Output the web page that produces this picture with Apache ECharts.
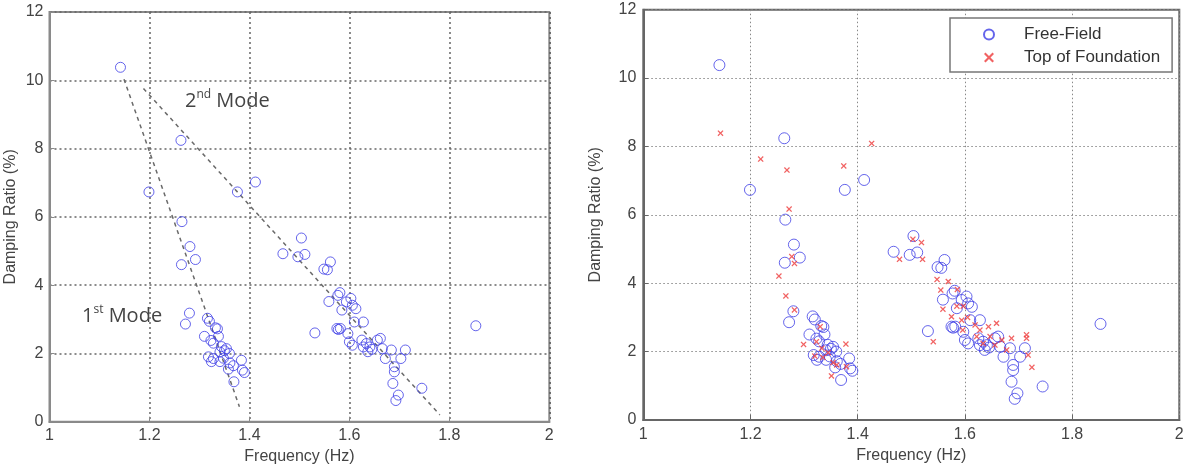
<!DOCTYPE html>
<html>
<head>
<meta charset="utf-8">
<script src="https://cdn.jsdelivr.net/npm/echarts@6/dist/echarts.min.js"></script>
<style>
html,body{margin:0;padding:0;background:#fff;}
#chart{width:1192px;height:472px;}
</style>
</head>
<body>
<div id="chart"></div>
<script>
// ---- data ----
var xTicks = [1, 1.2, 1.4, 1.6, 1.8, 2];
var yTicks = [0, 2, 4, 6, 8, 10, 12];

// Free-Field (circles) — frequency (Hz), damping ratio (%)
var ffFreq = [1.142,1.263,1.199,1.376,1.412,1.265,1.281,1.264,1.292,1.280,1.272,
  1.316,1.320,1.332,1.336,1.310,1.323,1.338,1.328,1.344,1.354,1.341,1.360,1.350,1.318,1.328,1.348,1.324,1.341,1.361,1.384,1.368,1.358,1.386,1.390,1.369,
  1.504,1.467,1.497,1.511,1.562,1.549,1.556,1.581,1.559,1.603,1.594,1.606,1.585,1.613,1.577,1.610,1.628,1.575,1.582,1.578,1.531,1.597,1.600,1.606,1.625,1.634,1.628,1.641,1.637,1.645,1.656,1.662,1.666,1.684,1.712,1.672,1.703,1.690,1.690,1.687,1.745,1.698,1.693,1.853];
var ffDamp = [10.38,8.24,6.73,6.73,7.02,5.86,5.13,4.60,4.75,3.18,2.86,
  3.03,2.94,2.75,2.72,2.50,2.38,2.50,2.30,2.20,2.14,2.04,2.00,2.08,1.90,1.85,1.86,1.76,1.76,1.72,1.80,1.64,1.54,1.51,1.44,1.17,
  5.38,4.92,4.83,4.90,4.68,4.47,4.45,3.78,3.52,3.61,3.51,3.41,3.27,3.31,3.70,2.92,2.92,2.73,2.73,2.70,2.60,2.58,2.34,2.24,2.39,2.29,2.19,2.19,2.05,2.12,2.39,2.44,2.14,2.10,2.10,1.85,1.85,1.61,1.46,1.12,0.98,0.78,0.62,2.81];

// Top of Foundation (crosses)
var tfFreq = [1.144,1.219,1.268,1.272,1.374,1.426,1.277,1.282,1.253,1.266,1.282,1.299,1.378,1.323,1.333,1.320,1.335,1.345,1.354,1.361,1.379,1.351,1.330,
  1.519,1.503,1.478,1.521,1.548,1.569,1.555,1.559,1.586,1.575,1.585,1.597,1.605,1.594,1.596,1.619,1.628,1.644,1.659,1.622,1.634,1.647,1.656,1.687,1.715,1.715,1.718,1.725,1.541,1.678,1.669];
var tfDamp = [8.39,7.63,7.31,6.17,7.43,8.09,4.78,4.58,4.21,3.63,3.22,2.21,2.22,2.29,2.10,1.87,1.83,1.97,1.68,1.61,1.56,1.29,2.73,
  5.19,5.29,4.70,4.70,4.11,4.05,3.80,3.24,3.82,3.02,3.33,3.33,3.00,2.92,2.63,2.78,2.63,2.73,2.83,2.44,2.24,2.44,2.19,2.39,2.49,2.39,1.90,1.54,2.29,2.05,2.34];

// dashed trend lines on the left panel (endpoints)
var mode1Line = [[1.149, 10.03], [1.380, 0.44]];
var mode2Line = [[1.188, 9.76], [1.781, 0.20]];

function pairs(xs, ys){ return xs.map(function(x,i){ return [x, ys[i]]; }); }

var blue = '#3f3fe6';
var red = '#ee3b3b';
var xPath = 'path://M0,1.5L1.5,0L5,3.5L8.5,0L10,1.5L6.5,5L10,8.5L8.5,10L5,6.5L1.5,10L0,8.5L3.5,5Z';
var font = 'Liberation Sans, Arial, sans-serif';

function xAxis(idx, color, gridColor, gridW, gridType, gap, margin){
  return {
    gridIndex: idx, type: 'value', min: xTicks[0], max: xTicks[xTicks.length-1],
    interval: xTicks[1]-xTicks[0],
    name: 'Frequency (Hz)', nameLocation: 'middle', nameGap: gap,
    nameTextStyle: {fontFamily: font, fontSize: 16, color: '#444'},
    axisLine: {show: true, lineStyle: {color: color, width: 2}},
    axisTick: {show: true, inside: true, length: 5, lineStyle: {color: color}},
    axisLabel: {fontFamily: font, fontSize: 16, color: '#444', margin: margin,
      formatter: function(v){ return String(+v.toFixed(1)); }},
    splitLine: {show: true, lineStyle: {color: gridColor, type: gridType, width: gridW}}
  };
}
function yAxis(idx, color, gridColor, gridW, gridType, gap, margin){
  return {
    gridIndex: idx, type: 'value', min: yTicks[0], max: yTicks[yTicks.length-1],
    interval: yTicks[1]-yTicks[0],
    name: 'Damping Ratio (%)', nameLocation: 'middle', nameGap: gap,
    nameTextStyle: {fontFamily: font, fontSize: 16, color: '#444'},
    axisLine: {show: true, lineStyle: {color: color, width: 2}},
    axisTick: {show: true, inside: true, length: 5, lineStyle: {color: color}},
    axisLabel: {fontFamily: font, fontSize: 16, color: '#444', margin: margin},
    splitLine: {show: true, lineStyle: {color: gridColor, type: gridType, width: gridW}}
  };
}

var circleStyle = {color: 'rgba(0,0,0,0)', borderColor: blue, borderWidth: 1};

var chart = echarts.init(document.getElementById('chart'), null, {renderer: 'canvas'});
chart.setOption({
  animation: false,
  backgroundColor: '#fff',
  grid: [
    {left: 49.5, right: 642.7, top: 12, bottom: 50.3, show: true, borderColor: '#8a8a8a', borderWidth: 2},
    {left: 643.3, right: 12.7, top: 9.7, bottom: 52, show: true, borderColor: '#666', borderWidth: 2}
  ],
  xAxis: [xAxis(0, '#8a8a8a', '#666', 1.5, [2, 3], 27, 6), xAxis(1, '#666', '#888', 1, [1.5, 2.5], 28, 7)],
  yAxis: [yAxis(0, '#8a8a8a', '#666', 1.5, [2, 3], 31, 6), yAxis(1, '#666', '#888', 1, [1.5, 2.5], 40, 7)],
  legend: {
    data: ['Free-Field', 'Top of Foundation'],
    orient: 'vertical', left: 950, top: 18,
    padding: [8, 12, 6, 33], itemGap: 6,
    itemWidth: 60, itemHeight: 10,
    backgroundColor: '#fff', borderColor: '#777', borderWidth: 1.5,
    textStyle: {fontFamily: font, fontSize: 17, color: '#333', lineHeight: 14}
  },
  series: [
    {name: 'mode1', type: 'line', xAxisIndex: 0, yAxisIndex: 0, data: mode1Line, symbol: 'none',
     lineStyle: {color: '#6a6a6a', type: [4, 4], width: 1.5}, z: 1},
    {name: 'mode2', type: 'line', xAxisIndex: 0, yAxisIndex: 0, data: mode2Line, symbol: 'none',
     lineStyle: {color: '#6a6a6a', type: [4, 4], width: 1.5}, z: 1},
    {name: 'Free-Field left', type: 'scatter', xAxisIndex: 0, yAxisIndex: 0,
     data: pairs(ffFreq, ffDamp), symbol: 'circle', symbolSize: 10,
     itemStyle: circleStyle},
    {name: 'Free-Field', type: 'scatter', xAxisIndex: 1, yAxisIndex: 1,
     data: pairs(ffFreq, ffDamp), symbol: 'circle', symbolSize: 11,
     itemStyle: circleStyle},
    {name: 'Top of Foundation', type: 'scatter', xAxisIndex: 1, yAxisIndex: 1,
     data: pairs(tfFreq, tfDamp), symbol: xPath, symbolSize: 6,
     itemStyle: {color: red}}
  ],
  graphic: [
    {type: 'text', left: 185, top: 89, style: {
      text: '{a|2}{s|nd}{a| Mode}',
      rich: {a: {fontSize: 20, fontFamily: 'Open Sans', fill: '#444', lineHeight: 24},
             s: {fontSize: 12, fontFamily: 'Open Sans', fill: '#444', lineHeight: 24, verticalAlign: 'top'}}
    }},
    {type: 'text', left: 82, top: 304, style: {
      text: '{a|1}{s|st}{a| Mode}',
      rich: {a: {fontSize: 20, fontFamily: 'Open Sans', fill: '#444', lineHeight: 24},
             s: {fontSize: 12, fontFamily: 'Open Sans', fill: '#444', lineHeight: 24, verticalAlign: 'top'}}
    }}
  ]
});
</script>
</body>
</html>
